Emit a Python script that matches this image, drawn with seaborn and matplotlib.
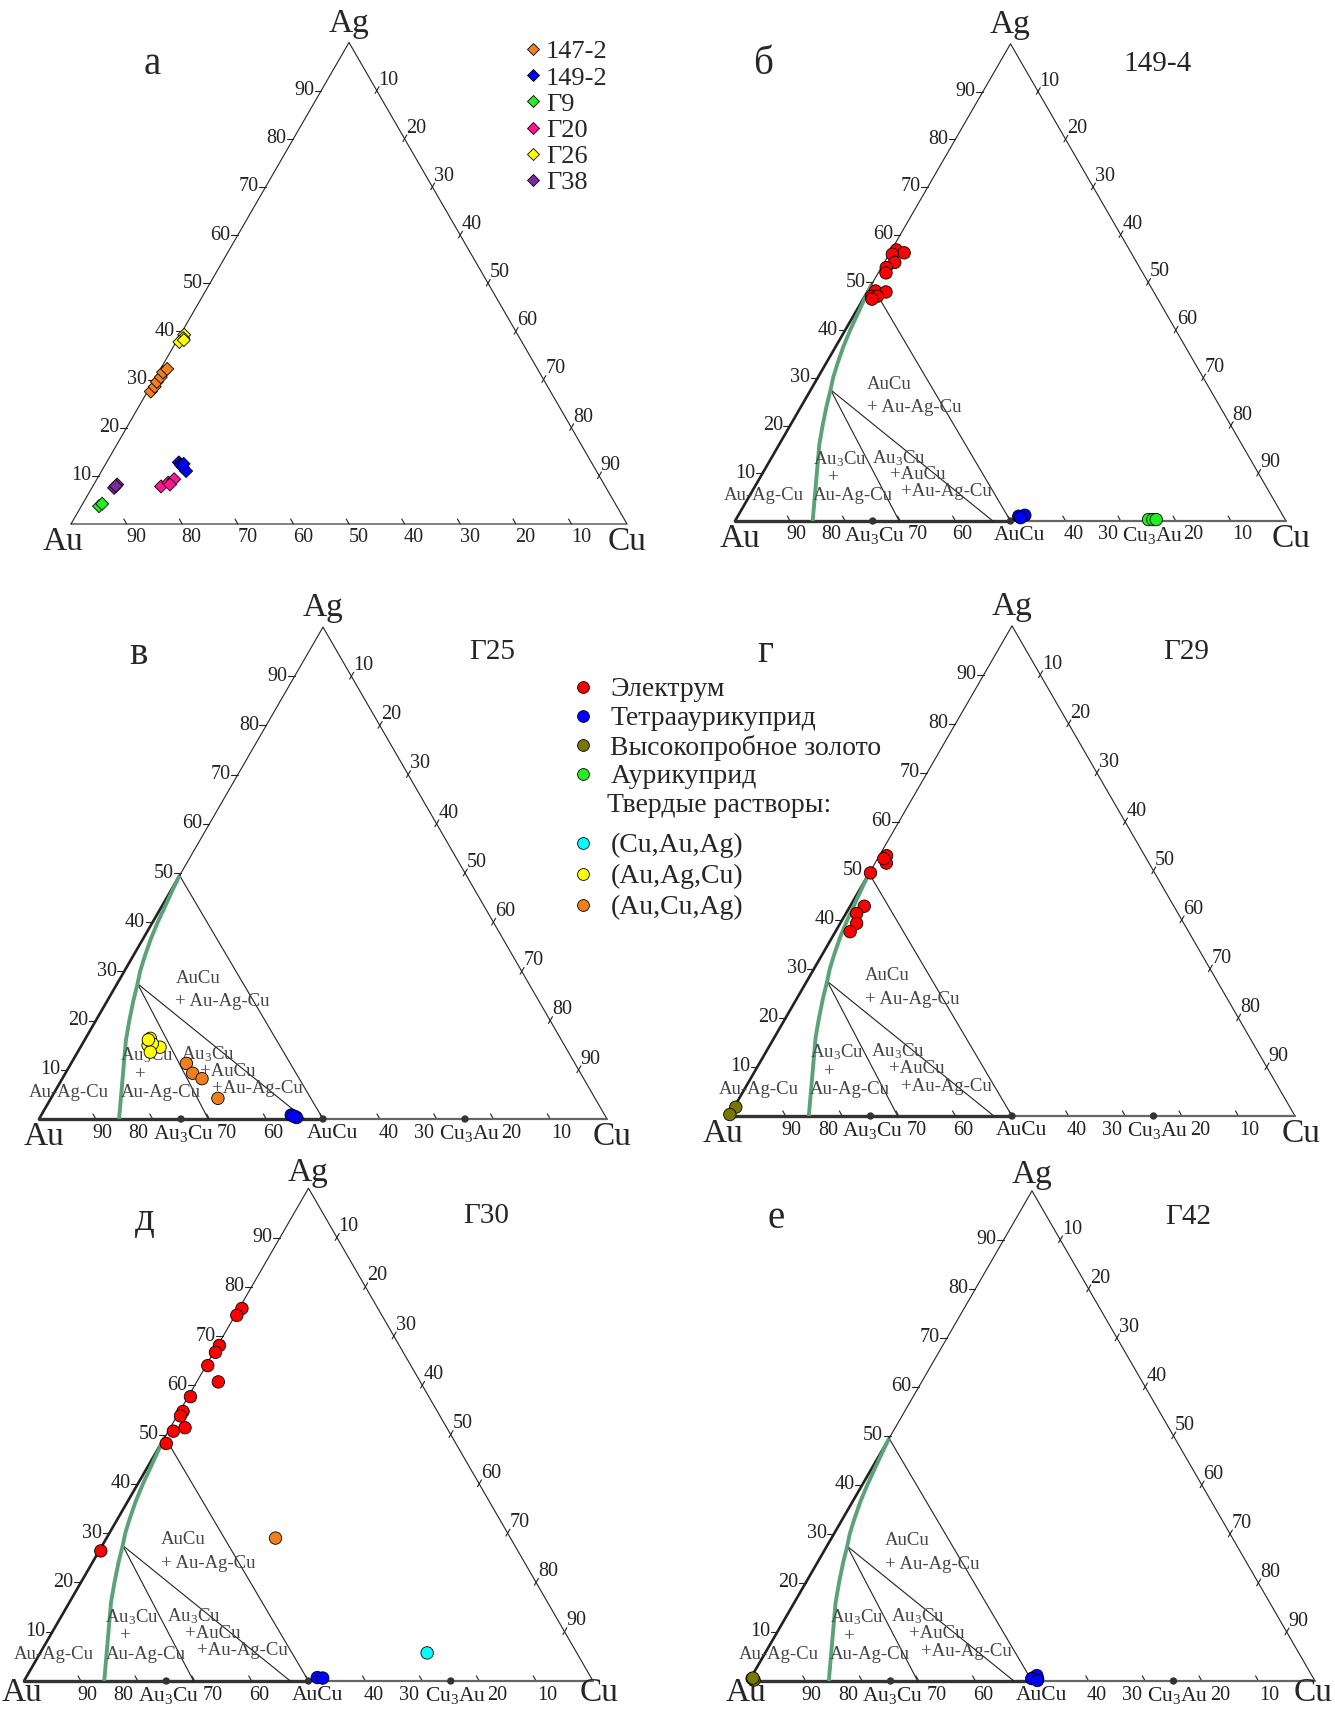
import numpy as np
import pandas as pd
import matplotlib
matplotlib.use("Agg")
import matplotlib.pyplot as plt
from matplotlib.lines import Line2D
import seaborn as sns


# -----------------------------
# Data (mass %, Ag and Cu; Au = rest)
# -----------------------------
TICKS = [10, 20, 30, 40, 50, 60, 70, 80, 90]

# panel а – samples (diamonds)
A_SAMPLES = ["147-2", "149-2", "Г9", "Г20", "Г26", "Г38"]
A_COLORS = ["#f07f1e", "#0000ff", "#22ee22", "#ff1493", "#ffff00", "#7b2a9b"]
A_147_2_AG = [27.5, 28.5, 29.5, 30.5, 31.5, 32.2]
A_147_2_CU = [0.6, 0.8, 0.7, 0.9, 0.8, 1.2]
A_149_2_AG = [12.8, 12.3, 11.8, 11.0, 12.5]
A_149_2_CU = [13.0, 13.6, 14.2, 15.2, 14.0]
A_G9_AG = [3.7, 4.2]
A_G9_CU = [3.2, 3.5]
A_G20_AG = [7.8, 8.6, 9.3, 8.2]
A_G20_CU = [12.3, 13.2, 13.9, 13.7]
A_G26_AG = [39.3, 38.6, 37.8, 38.2]
A_G26_CU = [0.7, 0.9, 0.6, 1.2]
A_G38_AG = [7.5, 8.2, 7.9]
A_G38_CU = [4.0, 4.2, 4.1]

# mineral phases (circles)
PHASES = ["Электрум", "Тетрааурикуприд", "Высокопробное золото", "Аурикуприд",
          "(Cu,Au,Ag)", "(Au,Ag,Cu)", "(Au,Cu,Ag)"]
PHASE_COLORS = ["#ff0000", "#0000ff", "#787800", "#22ee22",
                "#00ffff", "#ffff00", "#f07f1e"]
SOLID_HEADER = "Твердые растворы:"

# panel б – 149-4
B_EL_AG = [56.8, 56.2, 55.9, 54.2, 53.1, 52.0, 48.2, 48.0, 47.1, 47.1, 46.5]
B_EL_CU = [0.9, 2.6, 0.6, 1.9, 0.9, 1.4, 1.4, 3.4, 1.2, 2.3, 1.6]
B_TETRA_AG = [1.0, 1.2, 0.7]
B_TETRA_CU = [51.0, 52.0, 51.5]
B_AURI_AG = [0.3, 0.3, 0.3]
B_AURI_CU = [74.9, 75.7, 76.3]

# panel в – Г25
V_AAC_AG = [16.4, 15.0, 14.6, 14.6, 15.3, 13.6, 16.1]
V_AAC_CU = [11.4, 11.7, 13.1, 14.0, 12.3, 12.8, 11.2]
V_ACA_AG = [11.3, 9.3, 8.2, 4.2]
V_ACA_CU = [20.3, 22.4, 24.6, 29.4]
V_TETRA_AG = [0.8, 0.5, 0.3, 0.6]
V_TETRA_CU = [44.0, 44.8, 45.2, 44.5]

# panel г – Г29
G_EL_AG = [53.1, 51.6, 52.5, 49.6, 42.8, 41.3, 39.3, 37.6]
G_EL_CU = [1.3, 2.0, 1.1, 0.2, 2.5, 1.9, 2.9, 2.6]
G_HIGH_AG = [1.8, 0.3]
G_HIGH_CU = [0.3, 0.0]

# panel д – Г30
D_EL_AG = [75.6, 74.2, 68.1, 66.7, 64.0, 60.7, 57.7, 54.7, 53.8, 51.4, 50.7, 48.2, 26.4]
D_EL_CU = [0.5, 0.3, 0.3, 0.3, 0.3, 3.8, 0.4, 0.6, 0.6, 2.6, 0.9, 0.9, 0.3]
D_ACA_AG = [29.0]
D_ACA_CU = [29.7]
D_CAA_AG = [5.7]
D_CAA_CU = [68.0]
D_TETRA_AG = [0.7, 0.6]
D_TETRA_CU = [51.2, 52.2]

# panel е – Г42
E_HIGH_AG = [0.5, 0.2, 0.6]
E_HIGH_CU = [0.3, 0.8, 0.4]
E_TETRA_AG = [0.7, 0.4, 1.1, 0.5, 0.1]
E_TETRA_CU = [50.0, 50.8, 50.3, 49.7, 50.9]

# phase diagram (Au-Ag-Cu)
BOUNDARY_AG = [49.5, 47, 44, 40, 36.5, 33, 30, 27.5, 24, 20, 16, 12, 8, 4, 0]
BOUNDARY_CU = [0, 0.2, 0.5, 0.9, 1.4, 2.1, 2.8, 3.6, 4.6, 5.9, 7.3, 9.0, 10.7, 12.4, 14.1]
TIE_START_AG = [49.5, 27.5, 27.5]
TIE_START_CU = [0, 3.6, 3.6]
TIE_END_CU = [50, 29.8, 46.8]
COMPOUND_CU = [25, 50, 75]
COMPOUND_NAMES = ["Au$_\\mathregular{3}$Cu", "AuCu", "Cu$_\\mathregular{3}$Au"]

# -----------------------------
# Style / layout
# -----------------------------
sns.set_theme(style="white")
plt.rcParams["font.family"] = ["Liberation Serif", "DejaVu Serif"]
plt.rcParams["mathtext.fontset"] = "custom"
plt.rcParams["mathtext.rm"] = "Liberation Serif"
plt.rcParams["mathtext.it"] = "Liberation Serif:italic"

FIG_W, FIG_H = 1335, 1711
H3 = np.sqrt(3) / 2
INK = "#222222"
GREY_TXT = "#444444"
TICK_FS = 14.5

fig = plt.figure(figsize=(FIG_W / 100, FIG_H / 100), dpi=100)


def tern(ag, cu):
    ag = np.asarray(ag, float) / 100
    cu = np.asarray(cu, float) / 100
    return cu + ag / 2, ag * H3


def make_ax(au_x, base_y, side):
    x0, x1, y0, y1 = -0.16, 1.16, -0.12, 0.98
    left = (au_x + x0 * side) / FIG_W
    bottom = (FIG_H - base_y + y0 * side) / FIG_H
    ax = fig.add_axes([left, bottom, (x1 - x0) * side / FIG_W, (y1 - y0) * side / FIG_H])
    ax.set_xlim(x0, x1)
    ax.set_ylim(y0, y1)
    ax.axis("off")
    ax.patch.set_visible(False)
    return ax


# label shifts on the bottom edge of the phase-diagram panels
PHASE_BOTTOM_SHIFT = {90: 0.011, 80: -0.025, 70: 0.031, 60: 0.013,
                      40: 0.015, 30: -0.023, 20: 0.032, 10: 0.02}


def draw_frame(ax, phase, au_dx=-0.012, cu_dx=0.01, corner_dy=-0.032, ag_dy=0.034):
    ax.plot([0, 1, 0.5, 0], [0, 0, H3, 0], color=INK, lw=0.8, zorder=2)
    for v in TICKS:
        # left edge – Ag
        x, y = tern(v, 0)
        ax.plot([x, x - 0.012], [y, y], color=INK, lw=0.8)
        ax.text(x - 0.013, y, str(v), ha="right", va="center", fontsize=TICK_FS, color=INK)
        # right edge – Cu
        x, y = tern(100 - v, v)
        ax.plot([x - 0.003, x + 0.004], [y - 0.005, y + 0.007], color=INK, lw=0.8)
        ax.text(x + 0.003, y + 0.019, str(v), ha="left", va="center", fontsize=TICK_FS, color=INK)
        # bottom edge – Au
        x, y = tern(0, 100 - v)
        ax.plot([x, x - 0.005], [0, 0.009], color=INK, lw=0.8)
        if phase:
            if v == 50:
                continue
            shift = PHASE_BOTTOM_SHIFT[v]
        else:
            shift = 0.017
        ax.text(x + shift, -0.025, str(v), ha="center", va="center", fontsize=TICK_FS, color=INK)
    ax.text(au_dx, corner_dy, "Au", ha="center", va="center", fontsize=24)
    ax.text(1 + cu_dx, corner_dy, "Cu", ha="center", va="center", fontsize=24)
    ax.text(0.5, H3 + ag_dy, "Ag", ha="center", va="center", fontsize=24)


def draw_phase(ax):
    # thick lower edges
    x, y = tern([0, 49.5], [0, 0])
    ax.plot(x, y, color=INK, lw=1.9, zorder=2)
    ax.plot([0, 0.5], [0, 0], color="#333333", lw=2.4, zorder=2)
    ax.plot([0.5, 1], [0, 0], color="#666666", lw=1.6, zorder=2)
    # tie lines
    for ag0, cu0, cu1 in zip(TIE_START_AG, TIE_START_CU, TIE_END_CU):
        x, y = tern([ag0, 0], [cu0, cu1])
        ax.plot(x, y, color=INK, lw=0.8, zorder=2)
    # Au-Ag-Cu solid solution boundary
    x, y = tern(BOUNDARY_AG, BOUNDARY_CU)
    ax.plot(x, y, color="#5ba377", lw=2.8, zorder=3, solid_capstyle="butt",
            solid_joinstyle="round")
    # compounds
    cx, cy = tern([0] * len(COMPOUND_CU), COMPOUND_CU)
    sns.scatterplot(x=cx, y=cy, color="#333333", s=28, edgecolor="none",
                    zorder=4, legend=False, ax=ax)
    for xx, name, dx in zip(cx, COMPOUND_NAMES, [0.004, 0.016, 0.008]):
        ax.text(xx + dx, -0.026, name, ha="center", va="center", fontsize=15.5, color=INK)
    # field labels
    kw = dict(fontsize=13.5, color=GREY_TXT, va="center")
    ax.text(0.24, 0.248, "AuCu", ha="left", **kw)
    ax.text(0.24, 0.206, "+ Au-Ag-Cu", ha="left", **kw)
    ax.text(0.19, 0.112, "Au$_\\mathregular{3}$Cu", ha="center", **kw)
    ax.text(0.178, 0.079, "+", ha="center", **kw)
    ax.text(0.214, 0.047, "Au-Ag-Cu", ha="center", **kw)
    ax.text(0.298, 0.114, "Au$_\\mathregular{3}$Cu", ha="center", **kw)
    ax.text(0.332, 0.084, "+AuCu", ha="center", **kw)
    ax.text(0.384, 0.053, "+Au-Ag-Cu", ha="center", **kw)
    ax.text(0.053, 0.047, "Au-Ag-Cu", ha="center", **kw)


def build_df(groups):
    rows = []
    for name, ags, cus in groups:
        x, y = tern(ags, cus)
        for xx, yy in zip(x, y):
            rows.append({"group": name, "x": xx, "y": yy})
    return pd.DataFrame(rows)


def draw_points(ax, groups, palette, marker, size):
    df = build_df(groups)
    sns.scatterplot(data=df, x="x", y="y", hue="group", palette=palette,
                    marker=marker, s=size, edgecolor="black", linewidth=0.6,
                    zorder=5, legend=False, ax=ax)
    ax.set_xlabel("")
    ax.set_ylabel("")


phase_pal = dict(zip(PHASES, PHASE_COLORS))

# -----------------------------
# Panels
# -----------------------------
# а
ax = make_ax(71, 524, 556)
draw_frame(ax, phase=False, au_dx=-0.014, cu_dx=0.0)
draw_points(ax, [("147-2", A_147_2_AG, A_147_2_CU), ("149-2", A_149_2_AG, A_149_2_CU),
                 ("Г9", A_G9_AG, A_G9_CU), ("Г20", A_G20_AG, A_G20_CU),
                 ("Г26", A_G26_AG, A_G26_CU), ("Г38", A_G38_AG, A_G38_CU)],
            dict(zip(A_SAMPLES, A_COLORS)), "D", 44)

# б
ax = make_ax(735, 521, 551)
draw_frame(ax, phase=True, au_dx=0.009, cu_dx=0.009)
draw_phase(ax)
draw_points(ax, [("Электрум", B_EL_AG, B_EL_CU), ("Тетрааурикуприд", B_TETRA_AG, B_TETRA_CU),
                 ("Аурикуприд", B_AURI_AG, B_AURI_CU)], phase_pal, "o", 80)

# в
ax = make_ax(39, 1119, 568)
draw_frame(ax, phase=True, au_dx=0.009, cu_dx=0.009)
draw_phase(ax)
draw_points(ax, [("(Au,Ag,Cu)", V_AAC_AG, V_AAC_CU), ("(Au,Cu,Ag)", V_ACA_AG, V_ACA_CU),
                 ("Тетрааурикуприд", V_TETRA_AG, V_TETRA_CU)], phase_pal, "o", 80)

# г
ax = make_ax(729, 1116, 566)
draw_frame(ax, phase=True, au_dx=-0.011, cu_dx=0.01)
draw_phase(ax)
draw_points(ax, [("Электрум", G_EL_AG, G_EL_CU),
                 ("Высокопробное золото", G_HIGH_AG, G_HIGH_CU)], phase_pal, "o", 80)

# д
ax = make_ax(24, 1681, 569)
draw_frame(ax, phase=True, au_dx=-0.004, cu_dx=0.01, corner_dy=-0.021, ag_dy=0.028)
draw_phase(ax)
draw_points(ax, [("Электрум", D_EL_AG, D_EL_CU), ("(Au,Cu,Ag)", D_ACA_AG, D_ACA_CU),
                 ("(Cu,Au,Ag)", D_CAA_AG, D_CAA_CU),
                 ("Тетрааурикуприд", D_TETRA_AG, D_TETRA_CU)], phase_pal, "o", 80)

# е
ax = make_ax(749, 1681, 566)
draw_frame(ax, phase=True, au_dx=-0.006, cu_dx=-0.004, corner_dy=-0.021, ag_dy=0.028)
draw_phase(ax)
draw_points(ax, [("Высокопробное золото", E_HIGH_AG, E_HIGH_CU),
                 ("Тетрааурикуприд", E_TETRA_AG, E_TETRA_CU)], phase_pal, "o", 80)

# -----------------------------
# Panel letters and sample names
# -----------------------------
LETTERS = ["а", "б", "в", "г", "д", "е"]
LETTER_POS = [(152, 64), (763, 64), (138, 654), (765, 652), (145, 1220), (776, 1218)]
for t, (px, py) in zip(LETTERS, LETTER_POS):
    fig.text(px / FIG_W, 1 - py / FIG_H, t, ha="center", va="center", fontsize=28)

SAMPLE_NAMES = ["149-4", "Г25", "Г29", "Г30", "Г42"]
SAMPLE_POS = [(1158, 64), (492, 652), (1186, 652), (486, 1216), (1188, 1217)]
for t, (px, py) in zip(SAMPLE_NAMES, SAMPLE_POS):
    fig.text(px / FIG_W, 1 - py / FIG_H, t, ha="center", va="center", fontsize=21)

# -----------------------------
# Legends
# -----------------------------
a_handles = [Line2D([], [], ls="", marker="D", markersize=6.5, markerfacecolor=c,
                    markeredgecolor="black", markeredgewidth=0.6) for c in A_COLORS]
fig.legend(a_handles, A_SAMPLES, loc="upper left",
           bbox_to_anchor=(526 / FIG_W, 1 - 40 / FIG_H), frameon=False,
           borderpad=0, borderaxespad=0, handlelength=0.55, handletextpad=0.2,
           labelspacing=0.1, fontsize=19)


def phase_handle(c):
    return Line2D([], [], ls="", marker="o", markersize=8.5, markerfacecolor=c,
                  markeredgecolor="black", markeredgewidth=0.6)


LEG_KW = dict(loc="upper left", frameon=False, borderpad=0, borderaxespad=0,
              handlelength=0.8, handletextpad=0.58, fontsize=20)
fig.legend([phase_handle(c) for c in PHASE_COLORS[:4]], PHASES[:4],
           bbox_to_anchor=(572 / FIG_W, 1 - 677 / FIG_H), labelspacing=0.12, **LEG_KW)
fig.text(607 / FIG_W, 1 - 805 / FIG_H, SOLID_HEADER, ha="left", va="center", fontsize=20)
fig.legend([phase_handle(c) for c in PHASE_COLORS[4:]], PHASES[4:],
           bbox_to_anchor=(572 / FIG_W, 1 - 833 / FIG_H), labelspacing=0.2, **LEG_KW)

fig.savefig("out.png", dpi=100, facecolor="white")
